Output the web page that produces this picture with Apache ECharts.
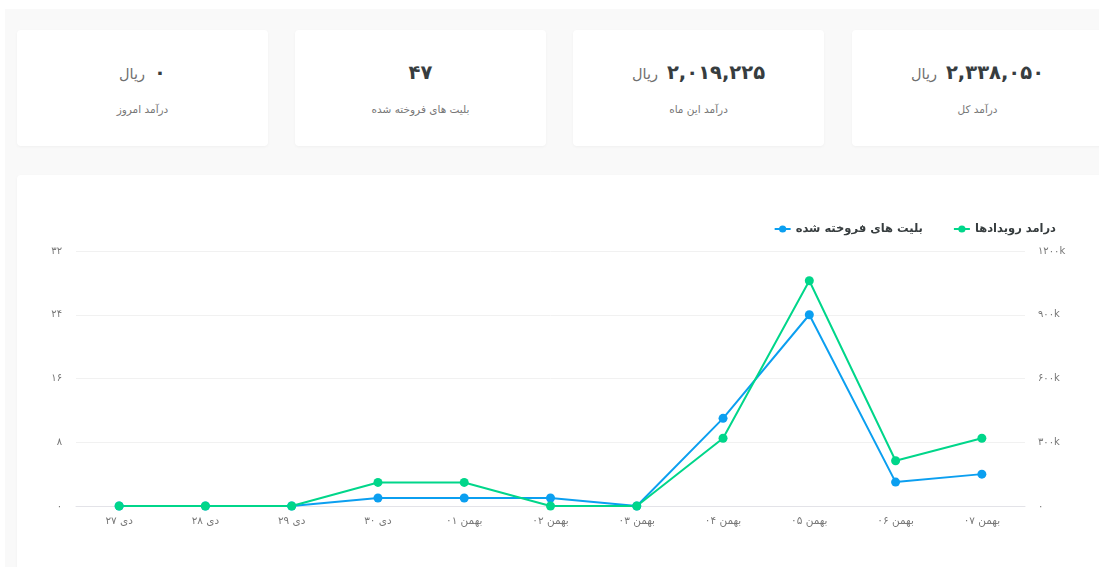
<!DOCTYPE html>
<html lang="fa">
<head>
<meta charset="utf-8">
<title>داشبورد فروش</title>
<script src="https://cdn.jsdelivr.net/npm/echarts@6/dist/echarts.min.js"></script>
<style>
  html, body { margin: 0; padding: 0; width: 1099px; height: 567px; overflow: hidden; background: #fff; }
  body { font-family: 'DejaVu Sans', sans-serif; position: relative; }
  .page { position: absolute; left: 5px; top: 9px; right: 0; bottom: 0; background: #f9f9f9; }
  .card {
    position: absolute; background: #fff; border-radius: 4px;
    box-shadow: 0 1px 3px rgba(0,0,0,0.04);
    text-align: center; direction: rtl;
  }
  .stat { top: 30px; width: 251px; height: 116px; }
  .stat .value { position: absolute; left: 0; right: 0; top: 28px; line-height: 30px; }
  .stat .num { font-size: 19.5px; font-weight: bold; color: #373d3f; }
  .stat .unit { font-size: 14.5px; color: #6f6f6f; margin-right: 9px; }
  .stat .label { position: absolute; left: 0; right: 0; top: 73px; font-size: 10.5px; color: #777; }
  .chart-card { left: 17px; top: 175px; width: 1100px; height: 420px; }
  #chart { position: absolute; left: 0; top: 0; width: 1099px; height: 567px; }
</style>
</head>
<body>
<div class="page"></div>

<div class="card stat" style="left:17px">
  <div class="value"><span class="num">۰</span><span class="unit">ریال</span></div>
</div>
<div class="card stat" style="left:295px">
  <div class="value"><span class="num">۴۷</span></div>
</div>
<div class="card stat" style="left:573px">
  <div class="value"><span class="num">۲,۰۱۹,۲۲۵</span><span class="unit">ریال</span></div>
</div>
<div class="card stat" style="left:852px">
  <div class="value"><span class="num">۲,۳۳۸,۰۵۰</span><span class="unit">ریال</span></div>
</div>
<div class="card chart-card"></div>
<div id="chart"></div>

<script>
// x-axis days (Persian calendar)
const categories = ['دی ۲۷', 'دی ۲۸', 'دی ۲۹', 'دی ۳۰', 'بهمن ۰۱', 'بهمن ۰۲', 'بهمن ۰۳', 'بهمن ۰۴', 'بهمن ۰۵', 'بهمن ۰۶', 'بهمن ۰۷'];
// tickets sold per day (left axis)
const ticketsSold = [0, 0, 0, 1, 1, 1, 0, 11, 24, 3, 4];
// event revenue per day in rial (right axis)
const eventRevenue = [0, 0, 0, 111000, 111000, 0, 0, 319000, 1060000, 213000, 319000];
const seriesNames = ['بلیت های فروخته شده', 'درامد رویدادها'];
const cardLabels = ['درآمد امروز', 'بلیت های فروخته شده', 'درآمد این ماه', 'درآمد کل'];

// card captions
document.querySelectorAll('.stat').forEach((el, i) => {
  const d = document.createElement('div');
  d.className = 'label';
  d.textContent = cardLabels[i];
  el.appendChild(d);
});

const faDigits = '۰۱۲۳۴۵۶۷۸۹';
const toFa = s => String(s).replace(/[0-9]/g, d => faDigits[d]);

const font = "'DejaVu Sans', sans-serif";
const chart = echarts.init(document.getElementById('chart'));

const option = {
  animation: false,
  color: ['#0b9ff0', '#00d68a'],
  textStyle: { fontFamily: font },
  legend: {
    data: seriesNames,
    right: 38,
    top: 218,
    itemWidth: 16,
    itemHeight: 9,
    itemGap: 30,
    textStyle: { fontFamily: font, fontSize: 11.5, fontWeight: 'bold', color: '#373d3f' }
  },
  grid: { left: 76, right: 74, top: 251, bottom: 61 },
  xAxis: {
    type: 'category',
    data: categories,
    axisLine: { lineStyle: { color: '#e3e3e8' } },
    axisTick: { show: false },
    axisLabel: { color: '#777', fontSize: 10.5, margin: 10, fontFamily: font }
  },
  yAxis: [
    {
      type: 'value', min: 0, max: 32, interval: 8,
      axisLine: { show: false }, axisTick: { show: false },
      splitLine: { lineStyle: { color: '#f1f1f1' } },
      axisLabel: { color: '#777', fontSize: 10, margin: 14, fontFamily: font, formatter: v => toFa(v) }
    },
    {
      type: 'value', min: 0, max: 1200000, interval: 300000,
      axisLine: { show: false }, axisTick: { show: false },
      splitLine: { show: false },
      axisLabel: {
        color: '#777', fontSize: 10, margin: 13, fontFamily: font,
        formatter: v => v === 0 ? toFa(0) : toFa(v / 1000) + 'k'
      }
    }
  ],
  series: [
    {
      name: seriesNames[0], type: 'line', yAxisIndex: 0, data: ticketsSold,
      symbol: 'circle', symbolSize: 9, lineStyle: { width: 2 }
    },
    {
      name: seriesNames[1], type: 'line', yAxisIndex: 1, data: eventRevenue,
      symbol: 'circle', symbolSize: 9, lineStyle: { width: 2 }
    }
  ]
};

chart.setOption(option);
</script>
</body>
</html>
